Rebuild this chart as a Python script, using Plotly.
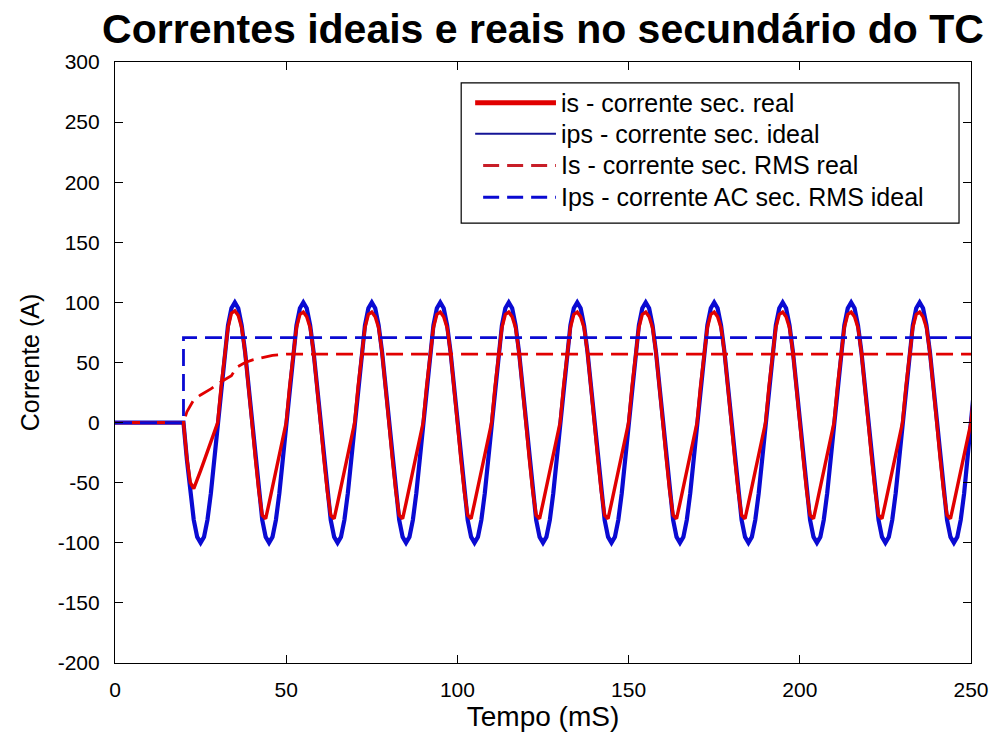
import numpy as np
import plotly.graph_objects as go

# ---- data (time in ms, current in A) ----
t_step_ms = 1.0
t_end_ms = 251
t_fault_ms = 20

# one 50 Hz cycle of the ideal secondary current, 1 ms samples, starting at a
# negative-going zero crossing
ips_cycle = [0.0, -30.9, -58.8, -80.9, -95.1, -100.0, -95.1, -80.9, -58.8, -30.9,
             0.0, 30.9, 58.8, 80.9, 95.1, 100.0, 95.1, 80.9, 58.8, 30.9]

# real secondary current: first cycle after the fault and the steady cycle
is_first_cycle = [0.0, -30.0, -50.0, -55.0, -48.0, -40.0, -32.0, -24.0, -16.0, -8.0,
                  0.0, 30.0, 57.0, 79.0, 91.0, 93.0, 89.0, 79.0, 58.0, 31.0]
is_cycle = [0.0, -30.0, -57.0, -77.0, -80.0, -67.0, -54.0, -41.0, -28.0, -14.0,
            0.0, 30.0, 57.0, 79.0, 90.0, 92.0, 88.0, 79.0, 58.0, 31.0]

# RMS of the real secondary current
rms_real_t = [0, 20, 21, 23, 25, 28, 31, 34, 35.5, 38, 40, 43, 46, 50, 55, 251]
rms_real_v = [0, 0, 9, 19, 23, 28, 34, 39, 46, 50, 52, 54, 56, 57, 57, 57]

# RMS of the ideal AC secondary current
rms_ideal_t = [0, 20, 20, 251]
rms_ideal_v = [0, 0, 70.7, 70.7]

x_ticks = [0, 50, 100, 150, 200, 250]
y_ticks = [-200, -150, -100, -50, 0, 50, 100, 150, 200, 250, 300]

# ---- build the sampled waveforms ----
t = np.arange(0, t_end_ms + 1) * t_step_ms
n_after = len(t) - t_fault_ms
ips = np.concatenate([np.zeros(t_fault_ms),
                      np.tile(ips_cycle, 13)[:n_after]])
is_real = np.concatenate([np.zeros(t_fault_ms), is_first_cycle,
                          np.tile(is_cycle, 13)[:n_after - len(is_first_cycle)]])

RED = "rgb(225,0,0)"
BLUE = "rgb(10,10,210)"
FONT = "Liberation Sans, Arial, sans-serif"

fig = go.Figure()
fig.add_trace(go.Scatter(x=t, y=ips, mode="lines", name="ips - corrente sec. ideal",
                         line=dict(color=BLUE, width=4.2)))
fig.add_trace(go.Scatter(x=t, y=is_real, mode="lines", name="is - corrente sec. real",
                         line=dict(color=RED, width=3.4)))
fig.add_trace(go.Scatter(x=rms_real_t, y=rms_real_v, mode="lines",
                         name="Is - corrente sec. RMS real",
                         line=dict(color=RED, width=2.8, dash="17px,8px")))
fig.add_trace(go.Scatter(x=rms_ideal_t, y=rms_ideal_v, mode="lines",
                         name="Ips - corrente AC sec. RMS ideal",
                         line=dict(color=BLUE, width=2.8, dash="17px,8px")))

# ---- boxed legend drawn in paper coordinates ----
PX0, PX1, PY0, PY1 = 115, 973, 62, 666


def px(x):
    return (x - PX0) / (PX1 - PX0)


def py(y):
    return (PY1 - y) / (PY1 - PY0)


legend_items = [
    ("is - corrente sec. real", RED, 5, None, 476),
    ("ips - corrente sec. ideal", "rgb(20,20,150)", 2, None, 476),
    ("Is - corrente sec. RMS real", "rgb(200,30,40)", 3, "16px,8px", 484),
    ("Ips - corrente AC sec. RMS ideal", BLUE, 3, "16px,8px", 484),
]
shapes = [dict(type="rect", xref="paper", yref="paper",
               x0=px(462), x1=px(961), y0=py(224), y1=py(83),
               line=dict(color="black", width=1.2), fillcolor="white", layer="above")]
annotations = []
row_y = [103, 134, 166, 198]
for (label, color, width, dash, x_start), yy in zip(legend_items, row_y):
    line = dict(color=color, width=width)
    if dash:
        line["dash"] = dash
    shapes.append(dict(type="line", xref="paper", yref="paper",
                       x0=px(x_start), x1=px(557), y0=py(yy), y1=py(yy),
                       line=line, layer="above"))
    annotations.append(dict(xref="paper", yref="paper", x=px(560), y=py(yy),
                            text=label, showarrow=False, xanchor="left",
                            yanchor="middle",
                            font=dict(family=FONT, size=25, color="black")))

axis_common = dict(
    showline=True, linecolor="black", linewidth=1.2, mirror="allticks",
    ticks="inside", ticklen=8, tickwidth=1.2, tickcolor="black",
    showgrid=False, zeroline=False,
    tickfont=dict(family=FONT, size=21, color="black"),
)

fig.update_layout(
    width=1001, height=738,
    margin=dict(l=PX0, r=1001 - PX1, t=PY0, b=738 - PY1),
    paper_bgcolor="white", plot_bgcolor="white",
    showlegend=False,
    title=dict(text="<b>Correntes ideais e reais no secundário do TC</b>",
               x=0.5, xref="paper", xanchor="center",
               y=1 - 29 / 738, yref="container", yanchor="middle",
               font=dict(family=FONT, size=41, color="black")),
    xaxis=dict(range=[0, 250], tickvals=x_ticks,
               ticktext=[str(v) for v in x_ticks], ticklabelstandoff=8,
               title=dict(text="Tempo (mS)", standoff=5,
                          font=dict(family=FONT, size=28, color="black")),
               **axis_common),
    yaxis=dict(range=[-200, 300], tickvals=y_ticks,
               ticktext=[str(v) for v in y_ticks], ticklabelstandoff=10,
               title=dict(text="Corrente (A)", standoff=10,
                          font=dict(family=FONT, size=25, color="black")),
               **axis_common),
    shapes=shapes,
    annotations=annotations,
)

fig.write_html("out.html")
